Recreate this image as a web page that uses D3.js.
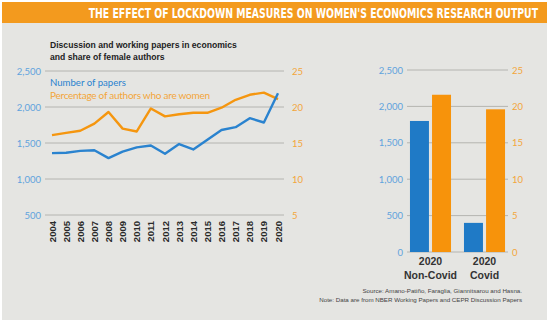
<!DOCTYPE html>
<html><head><meta charset="utf-8">
<script src="https://cdn.jsdelivr.net/npm/d3@7"></script>
<style>body{margin:0;background:#fff}svg{display:block}</style>
</head><body>
<svg id="c" width="550" height="328"></svg>
<script>
const years = d3.range(2004, 2021).map(String);
const papers = [1360,1365,1390,1400,1290,1380,1440,1465,1350,1485,1410,1545,1680,1720,1845,1785,2190];
const womenPct = [16.1,16.4,16.7,17.7,19.3,17.0,16.6,19.8,18.7,19.0,19.2,19.2,19.9,21.0,21.7,22.0,21.1];
const leftTicks = [500,1000,1500,2000,2500];
const rightTicks = [5,10,15,20,25];
const barCats = ["Non-Covid","Covid"];
const barPapers = [1800, 400];
const barPct = [21.6, 19.6];
const barTicksL = [0,500,1000,1500,2000,2500];
const barTicksR = [0,5,10,15,20,25];

const BLUE = "#2a83cf", ORANGE = "#f5960f", LBLUE = "#5fa3dd", LORANGE = "#f3a53a";
const svg = d3.select("#c");
svg.append("rect").attr("x",2).attr("y",2).attr("width",545).attr("height",318).attr("fill","#e5e5e2");
svg.append("rect").attr("x",2).attr("y",2).attr("width",545).attr("height",21).attr("fill","#f39a1e");
const tg = svg.append("g");
const tt = tg.append("text").attr("x",0).attr("y",0).attr("text-anchor","end")
  .attr("font-family","'DejaVu Sans Condensed','Liberation Sans',sans-serif").attr("font-weight","bold")
  .attr("font-size",14).attr("fill","#fff")
  .text("THE EFFECT OF LOCKDOWN MEASURES ON WOMEN'S ECONOMICS RESEARCH OUTPUT");
const tl = tt.node().getComputedTextLength();
tg.attr("transform",`translate(538,18) scale(${450/tl},1)`);

const sub = svg.append("g").attr("font-family","'Liberation Sans',Arial,sans-serif").attr("font-weight","bold").attr("font-size",8.6).attr("fill","#222");
sub.append("text").attr("x",50).attr("y",48).text("Discussion and working papers in economics");
sub.append("text").attr("x",50).attr("y",60).text("and share of female authors");

// Left chart
const x = d3.scalePoint(years, [52, 278]);
const yL = d3.scaleLinear([500,2500],[215,71]);
const yR = d3.scaleLinear([5,25],[215,71]);
const g = svg.append("g");
g.selectAll("line.grid").data(leftTicks).join("line").attr("x1",45).attr("x2",284)
  .attr("y1",d=>yL(d)).attr("y2",d=>yL(d)).attr("stroke","#b4b4b0").attr("stroke-width",1);
const axL = g.append("g").attr("transform","translate(41,0)")
  .call(d3.axisLeft(yL).tickValues(leftTicks).tickSize(0).tickPadding(0).tickFormat(d3.format(",")));
axL.select(".domain").remove();
axL.selectAll("text").attr("fill",LBLUE).attr("font-size",9.5).attr("font-family","Lato,'Liberation Sans',sans-serif");
const axR = g.append("g").attr("transform","translate(292,0)")
  .call(d3.axisRight(yR).tickValues(rightTicks).tickSize(0).tickPadding(0));
axR.select(".domain").remove();
axR.selectAll("text").attr("fill",LORANGE).attr("font-size",9.5).attr("font-family","Lato,'Liberation Sans',sans-serif");

g.append("path").datum(womenPct).attr("fill","none").attr("stroke",ORANGE).attr("stroke-width",2.4)
  .attr("stroke-linejoin","round")
  .attr("d", d3.line().x((d,i)=>x(years[i])).y(d=>yR(d)));
g.append("path").datum(papers).attr("fill","none").attr("stroke",BLUE).attr("stroke-width",2.4)
  .attr("stroke-linejoin","round")
  .attr("d", d3.line().x((d,i)=>x(years[i])).y(d=>yL(d)));

g.selectAll("text.yr").data(years).join("text").attr("class","yr")
  .attr("transform",d=>`translate(${x(d)+3.5},221) rotate(-90)`).attr("text-anchor","end")
  .attr("font-family","'Liberation Sans',sans-serif").attr("font-weight","bold")
  .attr("font-size",9.5).attr("fill","#2a2a2a").text(d=>d);

const lg = svg.append("g").attr("font-family","Lato,'Liberation Sans',sans-serif");
lg.append("text").attr("x",50).attr("y",86).attr("font-size",9.6).attr("fill",BLUE).text("Number of papers");
lg.append("text").attr("x",50).attr("y",99).attr("font-size",10).attr("fill",LORANGE).attr("textLength",160).attr("lengthAdjust","spacing").text("Percentage of authors who are women");

// Right chart
const yb = d3.scaleLinear([0,2500],[252,70]);
const ybR = d3.scaleLinear([0,25],[252,70]);
const xb = d3.scaleBand(barCats,[407,508]).paddingInner(0.24).paddingOuter(0.055);
const xs = d3.scaleBand(["papers","pct"],[0,xb.bandwidth()]).paddingInner(0.14);
const h = svg.append("g");
h.selectAll("line.grid").data(barTicksL).join("line").attr("x1",407).attr("x2",508)
  .attr("y1",d=>yb(d)).attr("y2",d=>yb(d)).attr("stroke","#b4b4b0");
const bL = h.append("g").attr("transform","translate(403,0)")
  .call(d3.axisLeft(yb).tickValues(barTicksL).tickSize(0).tickPadding(0).tickFormat(d3.format(",")));
bL.select(".domain").remove();
bL.selectAll("text").attr("fill",LBLUE).attr("font-size",9.5).attr("font-family","Lato,'Liberation Sans',sans-serif");
const bR = h.append("g").attr("transform","translate(512,0)")
  .call(d3.axisRight(ybR).tickValues(barTicksR).tickSize(0).tickPadding(0));
bR.select(".domain").remove();
bR.selectAll("text").attr("fill",LORANGE).attr("font-size",9.5).attr("font-family","Lato,'Liberation Sans',sans-serif");

h.selectAll("rect.bp").data(barCats).join("rect").attr("x",(d)=>xb(d)+xs("papers")).attr("width",xs.bandwidth())
  .attr("y",(d,i)=>yb(barPapers[i])).attr("height",(d,i)=>yb(0)-yb(barPapers[i])).attr("fill","#1f7ac6");
h.selectAll("rect.bo").data(barCats).join("rect").attr("x",(d)=>xb(d)+xs("pct")).attr("width",xs.bandwidth())
  .attr("y",(d,i)=>ybR(barPct[i])).attr("height",(d,i)=>ybR(0)-ybR(barPct[i])).attr("fill","#f7930b");

const cl = h.append("g").attr("font-family","'Liberation Sans',sans-serif").attr("font-weight","bold")
  .attr("font-size",10.5).attr("fill","#333").attr("text-anchor","middle");
cl.selectAll("text.a").data(barCats).join("text").attr("x",d=>xb(d)+xb.bandwidth()/2).attr("y",265).text("2020");
cl.selectAll("text.b").data(barCats).join("text").attr("x",d=>xb(d)+xb.bandwidth()/2).attr("y",279).text(d=>d);

const src = svg.append("g").attr("font-family","'Liberation Sans',sans-serif").attr("font-size",6.2)
  .attr("fill","#444").attr("text-anchor","end");
src.append("text").attr("x",522).attr("y",293).text("Source: Amano-Patiño, Faraglia, Giannitsarou and Hasna.");
src.append("text").attr("x",522).attr("y",302).text("Note: Data are from NBER Working Papers and CEPR Discussion Papers");
</script>
</body></html>
